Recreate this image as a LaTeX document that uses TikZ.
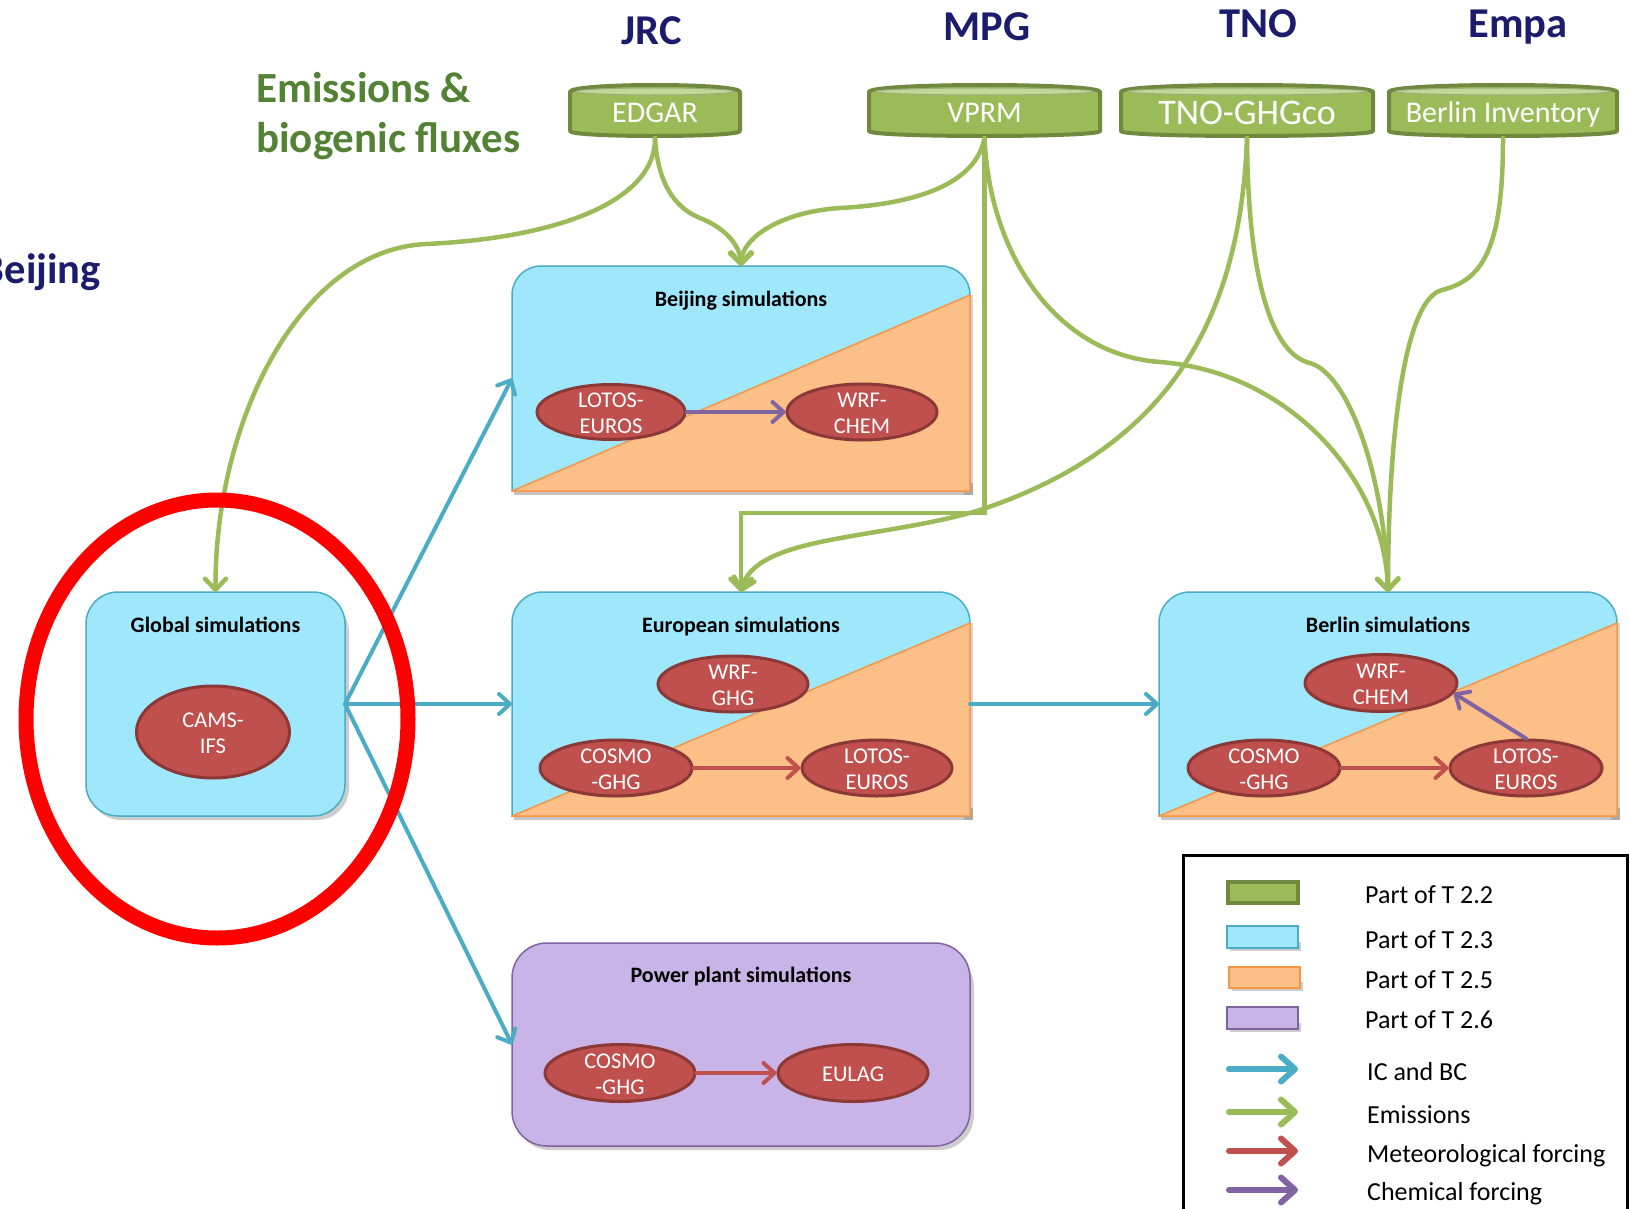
\documentclass[tikz,border=0pt]{standalone}
\usepackage{fontspec}
\setmainfont{Carlito}
\usetikzlibrary{shapes.geometric,arrows.meta,calc}
\definecolor{cyanF}{RGB}{159,232,252}
\definecolor{cyanD}{RGB}{75,172,198}
\definecolor{oranF}{RGB}{251,191,135}
\definecolor{oranD}{RGB}{247,150,70}
\definecolor{purpF}{RGB}{200,180,230}
\definecolor{purpD}{RGB}{128,100,162}
\definecolor{redF}{RGB}{192,80,77}
\definecolor{redD}{RGB}{140,56,54}
\definecolor{grnF}{RGB}{155,187,89}
\definecolor{grnD}{RGB}{113,137,63}
\definecolor{grnL}{RGB}{196,215,155}
\definecolor{grnT}{RGB}{84,130,53}
\definecolor{navy}{RGB}{28,28,108}
\definecolor{shad}{RGB}{90,90,90}
% cylinder: #1 left, #2 right, #3 top apex, #4 bottom apex
\newcommand\mycyl[4]{%
  \filldraw[fill=grnF,draw=grnD,line width=4pt,line join=round]
    (#1,{#3+7}) -- (#1,{#4-5}) .. controls (#1,{#4+1.67}) and (#2,{#4+1.67}) .. (#2,{#4-5})
    -- (#2,{#3+7}) .. controls (#2,{#3-2.33}) and (#1,{#3-2.33}) .. cycle;
  \filldraw[fill=grnL,draw=grnD!70,line width=1pt] ({(#1+#2)/2},{#3+6.5}) ellipse [x radius={(#2-#1)/2-6}, y radius=3.5];
}
% split box: #1 L, #2 T, #3 R, #4 B, #5 radius
\newcommand\mysplit[5]{%
  \fill[shad,opacity=.35] ({#1+2},{#4-8}) rectangle ({#3+3},{#4+4});
  \fill[shad,opacity=.25] ({#3-6},{#2+#5}) rectangle ({#3+3},{#4+4});
  \filldraw[fill=cyanF,draw=cyanD,line width=1.5pt]
    (#1,#4) -- (#1,{#2+#5}) .. controls (#1,{#2+0.448*#5}) and ({#1+0.448*#5},#2) .. ({#1+#5},#2)
    -- ({#3-#5},#2) .. controls ({#3-0.448*#5},#2) and (#3,{#2+0.448*#5}) .. (#3,{#2+#5})
    -- (#3,#4) -- cycle;
  \filldraw[fill=oranF,draw=oranD,line width=1.5pt,line join=round] (#1,#4) -- (#3,{#2+#5}) -- (#3,#4) -- cycle;
}
\begin{document}
\begin{tikzpicture}[x=1pt,y=-1pt,
  mdl/.style={ellipse,draw=redD,fill=redF,line width=3pt,inner sep=0pt,minimum width=150pt,minimum height=56pt},
  mtxt/.style={text=white,font=\fontsize{22.5}{26}\selectfont,align=center,inner sep=0pt,yshift=-1.5pt},
  ttl/.style={font=\bfseries\fontsize{22}{25}\selectfont,anchor=base,inner sep=0pt},
  hdr/.style={text=navy,font=\bfseries\fontsize{42.5}{50}\selectfont,anchor=base,inner sep=0pt},
  cyltxt/.style={text=white,inner sep=0pt,outer sep=0pt,minimum height=55pt,text depth=0pt,font=\fontsize{30}{36}\selectfont},
  hbox/.style={rectangle,inner sep=0pt,outer sep=0pt},
  emis/.style={draw=grnF,line width=4.5pt,line cap=round,-{Straight Barb[length=11pt,width=21pt,round]}},
  icbc/.style={draw=cyanD,line width=4pt,line cap=round,-{Straight Barb[length=11pt,width=20pt,round]}},
  metf/.style={draw=redF,line width=4pt,line cap=round,-{Straight Barb[length=11pt,width=20pt,round]}},
  chemf/.style={draw=purpD,line width=4pt,line cap=round,-{Straight Barb[length=11pt,width=20pt,round]}},
  legarr/.style={line width=6pt,line cap=round,-{Straight Barb[length=14pt,width=25pt,round]}},
  legtxt/.style={anchor=base west,inner sep=0pt,font=\fontsize{26}{30}\selectfont},
]
\useasboundingbox (0,0) rectangle (1630,1209);
\clip (0,0) rectangle (1630,1209);
\fill[white] (0,0) rectangle (1630,1209);

% ---------- headers ----------
\node[hdr] (hjrc) at (652,45) {JRC};
\node[hdr] (hmpg) at (987,41) {MPG};
\node[hdr] (htno) at (1258,38) {TNO};
\node[hdr] (hemp) at (1518,38) {Empa};
\node[hdr,anchor=base east] (hbj) at (101,283) {Beijing};
\node[anchor=base west,inner sep=0pt,text=grnT,font=\bfseries\fontsize{43}{50}\selectfont] (em1) at (256,103) {Emissions \&};
\node[anchor=base west,inner sep=0pt,text=grnT,font=\bfseries\fontsize{43}{50}\selectfont] (em2) at (256,153) {biogenic fluxes};

% ---------- cylinders ----------
\mycyl{570}{740}{85}{136}
\mycyl{869}{1100}{85}{136}
\mycyl{1121}{1373}{85}{136}
\mycyl{1389}{1617}{85}{136}
\node[cyltxt,minimum width=170pt,text height=25pt] (edgar) at (655,110.5) {EDGAR};
\node[cyltxt,minimum width=231pt,text height=25pt] (vprm) at (984.5,110.5) {VPRM};
\node[cyltxt,minimum width=252pt,text height=29pt,font=\fontsize{36}{40}\selectfont] (tno) at (1247,110.5) {TNO-GHGco};
\node[cyltxt,minimum width=228pt,text height=25pt] (binv) at (1503,110.5) {Berlin Inventory};

% ---------- simulation boxes ----------
\mysplit{512}{266}{970}{491}{29}
\mysplit{512}{592}{970}{816}{31}
\mysplit{1159}{592}{1617}{816}{31}
\node[hbox,minimum width=458pt,minimum height=225pt] (beij) at (741,378.5) {};
\node[hbox,minimum width=458pt,minimum height=224pt] (euro) at (741,704) {};
\node[hbox,minimum width=458pt,minimum height=224pt] (berl) at (1388,704) {};

\fill[shad,opacity=.3,rounded corners=32pt] (89,600) rectangle (349,820);
\node[hbox,draw=cyanD,fill=cyanF,line width=1.5pt,rounded corners=32pt,minimum width=259pt,minimum height=224pt] (glob) at (215.5,704) {};
\fill[shad,opacity=.3,rounded corners=35pt] (515,952) rectangle (974,1150);
\node[hbox,draw=purpD,fill=purpF,line width=1.5pt,rounded corners=35pt,minimum width=458pt,minimum height=203pt] (pow) at (741,1044.5) {};

\node[ttl] (tbj) at (741,306) {Beijing simulations};
\node[ttl] (teu) at (741,632) {European simulations};
\node[ttl] (tbe) at (1388,632) {Berlin simulations};
\node[ttl] (tgl) at (215.5,632) {Global simulations};
\node[ttl] (tpo) at (741,982) {Power plant simulations};

% ---------- models ----------
\node[mdl,minimum width=148pt,minimum height=55pt,label={[mtxt]center:LOTOS-\\EUROS}] (bL) at (611,412) {};
\node[mdl,label={[mtxt]center:WRF-\\CHEM}] (bW) at (862,412) {};
\node[mdl,label={[mtxt]center:WRF-\\GHG}] (eW) at (733,684) {};
\node[mdl,minimum width=152pt,label={[mtxt]center:COSMO\\-GHG}] (eC) at (616,768) {};
\node[mdl,label={[mtxt]center:LOTOS-\\EUROS}] (eL) at (877,768) {};
\node[mdl,minimum width=152pt,minimum height=57pt,label={[mtxt]center:WRF-\\CHEM}] (rW) at (1381,683) {};
\node[mdl,minimum width=152pt,label={[mtxt]center:COSMO\\-GHG}] (rC) at (1264,768) {};
\node[mdl,minimum width=152pt,label={[mtxt]center:LOTOS-\\EUROS}] (rL) at (1526,768) {};
\node[mdl,minimum height=57pt,label={[mtxt]center:COSMO\\-GHG}] (pC) at (620,1073) {};
\node[mdl,minimum height=57pt,label={[mtxt]center:EULAG}] (pE) at (853,1073) {};
\node[mdl,minimum width=153pt,minimum height=92pt,label={[mtxt]center:CAMS-\\IFS}] (gC) at (213,732) {};

\draw[chemf] (bL.east) -- (bW.west);
\draw[metf] (eC.east) -- (eL.west);
\draw[metf] (rC.east) -- (rL.west);
\draw[chemf] (rL.north) -- (rW.-8);
\draw[metf] (pC.east) -- (pE.west);

% ---------- IC and BC ----------
\draw[icbc] (glob.east) -- (beij.west);
\draw[icbc] (glob.east) -- (euro.west);
\draw[icbc] (glob.east) -- (pow.west);
\draw[icbc] (euro.east) -- (berl.west);

% ---------- emissions ----------
\coordinate (kE) at (741,513);
\draw[emis] (edgar.south) .. controls (656,200) and (560,238) .. (426,244) .. controls (300,250) and (215,420) .. (glob.north);
\draw[emis] (edgar.south) .. controls (658,190) and (680,210) .. (700,218) .. controls (725,228) and (740,245) .. (beij.north);
\draw[emis] (vprm.south) .. controls (975,190) and (900,205) .. (840,208) .. controls (780,212) and (742,238) .. (beij.north);
\draw[emis,line cap=butt] (vprm.south) |- (kE) -- (euro.north);
\draw[emis] (vprm.south) .. controls (990,260) and (1060,355) .. (1160,362) .. controls (1290,372) and (1385,480) .. (berl.north);
\draw[emis] (tno.south) .. controls (1240,330) and (1160,450) .. (980,510) .. controls (880,540) and (755,535) .. (euro.north);
\draw[emis] (tno.south) .. controls (1248,290) and (1275,355) .. (1310,363) .. controls (1350,375) and (1385,480) .. (berl.north);
\draw[emis] (binv.south) .. controls (1503,250) and (1482,280) .. (1442,290) .. controls (1402,300) and (1388,450) .. (berl.north);

% ---------- legend ----------
\draw[line width=3pt] (1183,855) rectangle (1627,1230);
\node[hbox,draw=grnD,fill=grnF,line width=4pt,minimum width=70pt,minimum height=21pt] (sw1) at (1263,892) {};
\fill[shad,opacity=.3] (1230,942) rectangle (1301,951);
\node[hbox,draw=cyanD,fill=cyanF,line width=2pt,minimum width=71pt,minimum height=22pt] (sw2) at (1262.5,937) {};
\fill[shad,opacity=.3] (1232,982) rectangle (1303,991);
\node[hbox,draw=oranD,fill=oranF,line width=2pt,minimum width=71pt,minimum height=21pt] (sw3) at (1264.5,977.5) {};
\fill[shad,opacity=.3] (1230,1023) rectangle (1301,1032);
\node[hbox,draw=purpD,fill=purpF,line width=2pt,minimum width=71pt,minimum height=22pt] (sw4) at (1262.5,1018) {};
\node[legtxt] (lt1) at (1365,903) {Part of T 2.2};
\node[legtxt] (lt2) at (1365,948) {Part of T 2.3};
\node[legtxt] (lt3) at (1365,988) {Part of T 2.5};
\node[legtxt] (lt4) at (1365,1028) {Part of T 2.6};
\coordinate (la1) at (1229,1069); \coordinate (lb1) at (1298,1069);
\coordinate (la2) at (1229,1112); \coordinate (lb2) at (1298,1112);
\coordinate (la3) at (1229,1151); \coordinate (lb3) at (1298,1151);
\coordinate (la4) at (1229,1190); \coordinate (lb4) at (1298,1190);
\draw[legarr,draw=cyanD] (la1) -- (lb1);
\draw[legarr,draw=grnF] (la2) -- (lb2);
\draw[legarr,draw=redF] (la3) -- (lb3);
\draw[legarr,draw=purpD] (la4) -- (lb4);
\node[legtxt] (lt5) at (1367,1080) {IC and BC};
\node[legtxt] (lt6) at (1367,1123) {Emissions};
\node[legtxt] (lt7) at (1367,1162) {Meteorological forcing};
\node[legtxt] (lt8) at (1367,1200) {Chemical forcing};

% ---------- red annotation ----------
\draw[red,line width=15pt] (217,719) ellipse [x radius=191, y radius=219];
\end{tikzpicture}
\end{document}
